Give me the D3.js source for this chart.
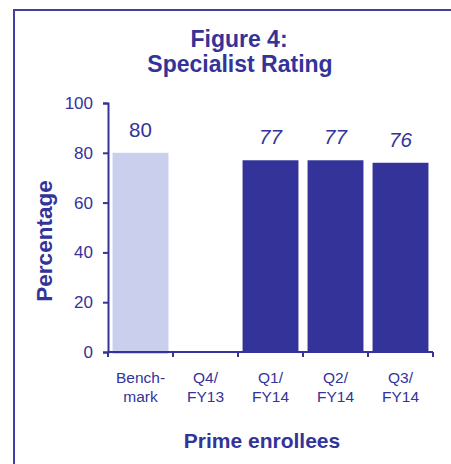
<!DOCTYPE html>
<html>
<head>
<meta charset="utf-8">
<script src="https://cdn.jsdelivr.net/npm/d3@7"></script>
<style>
  html, body { margin: 0; padding: 0; background: #fff; }
  svg { display: block; font-family: "Liberation Sans", Arial, sans-serif; }
</style>
</head>
<body>
<div id="chart"></div>
<script>
// chart data
const categories = [["Bench-", "mark"], ["Q4/", "FY13"], ["Q1/", "FY14"], ["Q2/", "FY14"], ["Q3/", "FY14"]];
const values = [80, null, 77, 77, 76];
const isBenchmark = [true, false, false, false, false];
const yTicks = [0, 20, 40, 60, 80, 100];

const width = 451, height = 464;
const navy = '#333399';
const margin = { left: 108, right: 18, top: 103, bottom: 112 };

const svg = d3.select('#chart').append('svg')
  .attr('width', width)
  .attr('height', height);

// outer frame (runs off the right and bottom of the picture)
svg.append('rect')
  .attr('x', 14).attr('y', 10)
  .attr('width', 480).attr('height', 480)
  .attr('fill', 'none')
  .attr('stroke', '#3f3fa6')
  .attr('stroke-width', 2);

const x = d3.scaleBand()
  .domain(d3.range(categories.length))
  .range([margin.left, width - margin.right])
  .paddingInner(0.14)
  .paddingOuter(0.07);

const y = d3.scaleLinear()
  .domain([0, 100])
  .range([height - margin.bottom, margin.top]);

// bars
svg.selectAll('rect.bar')
  .data(values.map((v, i) => ({ v, i })).filter(d => d.v != null))
  .enter()
  .append('rect')
  .attr('class', 'bar')
  .attr('x', d => x(d.i))
  .attr('y', d => y(d.v))
  .attr('width', x.bandwidth())
  .attr('height', d => y(0) - y(d.v) + (isBenchmark[d.i] ? 2 : 0))
  .attr('fill', d => isBenchmark[d.i] ? '#cbcfee' : navy);

// value labels
svg.selectAll('text.val')
  .data(values.map((v, i) => ({ v, i })).filter(d => d.v != null))
  .enter()
  .append('text')
  .attr('x', d => x(d.i) + x.bandwidth() / 2)
  .attr('y', d => y(d.v) - 16)
  .attr('text-anchor', 'middle')
  .attr('font-size', 20.5)
  .attr('font-style', d => isBenchmark[d.i] ? 'normal' : 'italic')
  .attr('fill', navy)
  .text(d => d.v);

// y axis
const yAxis = svg.append('g')
  .attr('transform', `translate(${margin.left},0)`)
  .call(d3.axisLeft(y).tickValues(yTicks).tickSize(5).tickPadding(10));
yAxis.select('.domain').attr('stroke', navy).attr('stroke-width', 2);
yAxis.selectAll('.tick line').attr('stroke', navy).attr('stroke-width', 2);
yAxis.selectAll('.tick text')
  .attr('fill', navy)
  .attr('font-size', 17)
  .attr('font-family', '"Liberation Sans", Arial, sans-serif');

// x axis: ticks at band boundaries
const x0 = margin.left, x1 = width - margin.right;
const step = (x1 - x0) / categories.length;
const xAxis = svg.append('g');
xAxis.append('line')
  .attr('x1', x0).attr('x2', x1)
  .attr('y1', y(0)).attr('y2', y(0))
  .attr('stroke', navy).attr('stroke-width', 2);
xAxis.selectAll('line.tick')
  .data(d3.range(categories.length + 1))
  .enter()
  .append('line')
  .attr('x1', i => x0 + i * step).attr('x2', i => x0 + i * step)
  .attr('y1', y(0)).attr('y2', y(0) + 5)
  .attr('stroke', navy).attr('stroke-width', 2);

// category labels
svg.selectAll('text.cat')
  .data(categories)
  .enter()
  .append('text')
  .attr('text-anchor', 'middle')
  .attr('font-size', 15.5)
  .attr('fill', navy)
  .each((d, i, nodes) => {
    const t = d3.select(nodes[i]);
    const cx = x0 + (i + 0.5) * step;
    d.forEach((line, j) => {
      t.append('tspan')
        .attr('x', cx)
        .attr('y', 383 + j * 19)
        .text(line);
    });
  });

// titles
svg.append('text')
  .attr('x', 239).attr('y', 47)
  .attr('text-anchor', 'middle')
  .attr('font-size', 23).attr('font-weight', 'bold')
  .attr('fill', navy)
  .text('Figure 4:');
svg.append('text')
  .attr('x', 240).attr('y', 72)
  .attr('text-anchor', 'middle')
  .attr('font-size', 23).attr('font-weight', 'bold')
  .attr('fill', navy)
  .text('Specialist Rating');

svg.append('text')
  .attr('x', 262).attr('y', 448)
  .attr('text-anchor', 'middle')
  .attr('font-size', 21).attr('font-weight', 'bold')
  .attr('fill', navy)
  .text('Prime enrollees');

svg.append('text')
  .attr('transform', 'translate(52,241) rotate(-90)')
  .attr('text-anchor', 'middle')
  .attr('font-size', 22.5).attr('font-weight', 'bold')
  .attr('fill', navy)
  .text('Percentage');
</script>
</body>
</html>
